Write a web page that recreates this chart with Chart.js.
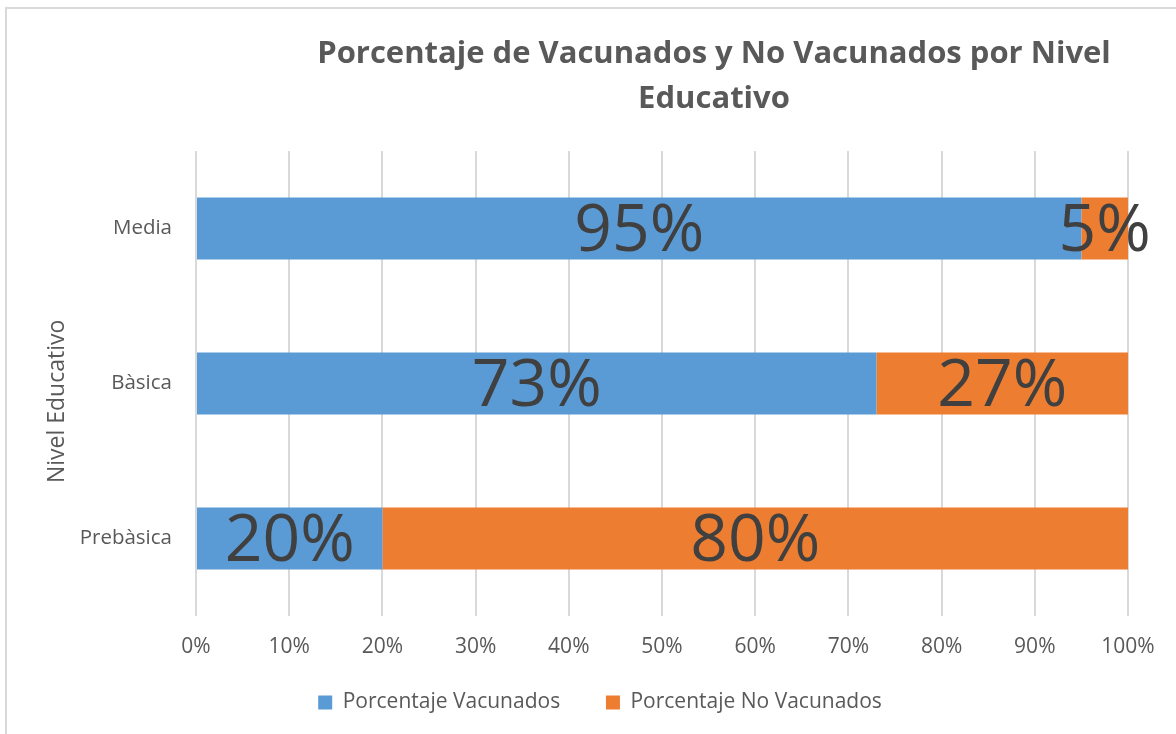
<!DOCTYPE html>
<html>
<head>
<meta charset="utf-8">
<script src="https://cdn.jsdelivr.net/npm/chart.js@4"></script>
<style>
  html, body { margin: 0; padding: 0; background: #fff; }
  #wrap { width: 1176px; height: 734px; }
</style>
</head>
<body>
<div id="wrap"><canvas id="chart" width="1176" height="734"></canvas></div>
<script>
// Categories (top to bottom)
const niveles = ["Media", "Bàsica", "Prebàsica"];

// Series values, in percent
const vacunados = [95, 73, 20];
const noVacunados = [5, 27, 80];

// Series names and colours
const seriesNames = ["Porcentaje Vacunados", "Porcentaje No Vacunados"];
const seriesColors = ["#5B9BD5", "#ED7D31"];

const titleLines = ["Porcentaje de Vacunados y No Vacunados por Nivel", "Educativo"];

const FONT = "'Open Sans', 'Noto Sans', sans-serif";
const GREY = "#595959";

// Outer frame like the original chart box
const framePlugin = {
    id: "frame",
    beforeDraw(chart) {
        const ctx = chart.ctx;
        ctx.save();
        ctx.strokeStyle = "#d9d9d9";
        ctx.lineWidth = 2;
        ctx.beginPath();
        ctx.moveTo(6, chart.height);
        ctx.lineTo(6, 8);
        ctx.lineTo(chart.width, 8);
        ctx.stroke();
        ctx.restore();
    }
};

// Title and legend are centred on the whole chart box in the original,
// which runs further right than this canvas
const boxShift = {
    id: "boxShift",
    afterLayout(chart) {
        const t = chart.titleBlock;
        if (t) {
            t.left += 150;
            t.right += 150;
        }
        const l = chart.legend;
        if (l) {
            l.left += 36;
            l.right += 36;
        }
    }
};

// Big value labels in the middle of every segment
const valueLabels = {
    id: "valueLabels",
    afterDatasetsDraw(chart) {
        const ctx = chart.ctx;
        ctx.save();
        ctx.fillStyle = "#404040";
        ctx.font = "66px " + FONT;
        ctx.textAlign = "center";
        ctx.textBaseline = "middle";
        chart.data.datasets.forEach((ds, i) => {
            chart.getDatasetMeta(i).data.forEach((bar, j) => {
                const p = bar.getCenterPoint();
                ctx.fillText(ds.data[j] + "%", p.x, p.y + 4);
            });
        });
        ctx.restore();
    }
};

new Chart(document.getElementById("chart"), {
    type: "bar",
    plugins: [framePlugin, boxShift, valueLabels],
    data: {
        labels: niveles,
        datasets: [
            {
                label: seriesNames[0],
                data: vacunados,
                backgroundColor: seriesColors[0],
            },
            {
                label: seriesNames[1],
                data: noVacunados,
                backgroundColor: seriesColors[1],
            },
        ],
    },
    options: {
        indexAxis: "y",
        responsive: false,
        animation: false,
        categoryPercentage: 1,
        barPercentage: 0.4,
        layout: { padding: { left: 0, right: 48, top: 0, bottom: 11 } },
        plugins: {
            tooltip: { enabled: false },
            title: {
                display: true,
                text: titleLines,
                color: GREY,
                font: { family: FONT, size: 31, weight: "bold", lineHeight: 1.45 },
                padding: { top: 32, bottom: 29 },
            },
            legend: {
                position: "bottom",
                labels: {
                    color: GREY,
                    font: { family: FONT, size: 21 },
                    boxWidth: 14,
                    boxHeight: 14,
                    padding: 24,
                    // wider gap between the two entries, as in the original
                    generateLabels: (chart) => {
                        const items = Chart.defaults.plugins.legend.labels.generateLabels(chart);
                        items.forEach((it, i) => {
                            if (i < items.length - 1) it.text += "    ";
                        });
                        return items;
                    },
                },
            },
        },
        scales: {
            x: {
                stacked: true,
                min: 0,
                max: 100,
                ticks: {
                    stepSize: 10,
                    color: GREY,
                    font: { family: FONT, size: 21 },
                    padding: 18,
                    callback: (v) => v + "%",
                },
                grid: { color: "#d9d9d9", lineWidth: 2, drawTicks: false },
                border: { display: false },
                afterFit: (s) => { s.height = 52; },
            },
            y: {
                stacked: true,
                ticks: {
                    color: GREY,
                    font: { family: FONT, size: 20.5 },
                    padding: 24,
                },
                grid: { display: false, drawTicks: false },
                border: { display: false },
                title: {
                    display: true,
                    text: "Nivel Educativo      ",
                    color: GREY,
                    font: { family: FONT, size: 23 },
                    padding: { top: 44, bottom: 4 },
                },
                afterFit: (s) => { s.width = 196; },
            },
        },
    },
});
</script>
</body>
</html>
